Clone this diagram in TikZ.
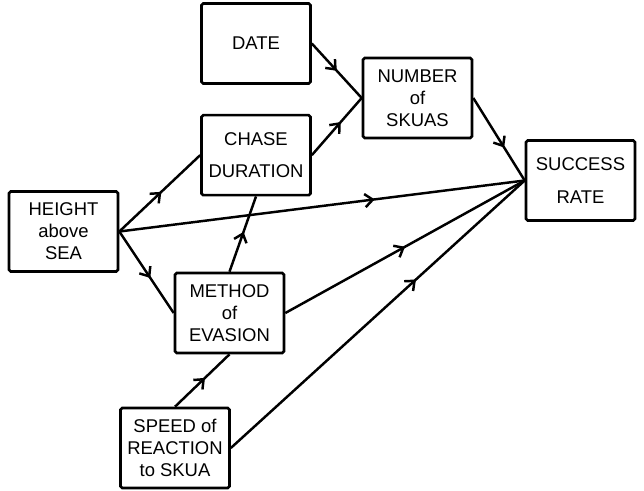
\documentclass[tikz,border=0pt]{standalone}
\usepackage{fontspec}
\setmainfont{Liberation Sans}
\usetikzlibrary{arrows.meta,positioning,decorations.markings}

\begin{document}
\begin{tikzpicture}[
    every node/.style={align=center},
    factor/.style={rectangle, rounded corners=1pt, minimum width=2.18cm, minimum height=1.6cm, text centered, draw=black, line width=1.5pt, font=\fontsize{10.5}{12.5}\selectfont},
    flow/.style={line width=1.4pt, decoration={markings, mark=at position #1 with {\arrow{Straight Barb[length=4.5pt, width=7.5pt, line width=1.4pt]}}}, postaction={decorate}},
    flow/.default=0.55
]
\useasboundingbox (0,0) rectangle (12.88,-9.8);

% Main components
\node[factor] (date) at (5.12,-0.87) {DATE};
\node[factor, below=0.58cm of date] (chase) {CHASE\\[6pt]DURATION};
\node[factor] (number) at (8.35,-1.96) {NUMBER\\of\\SKUAS};
\node[factor] (success) at (11.61,-3.61) {SUCCESS\\[6pt]RATE};
\node[factor] (height) at (1.27,-4.63) {HEIGHT\\above\\SEA};
\node[factor] (method) at (4.59,-6.26) {METHOD\\of\\EVASION};
\node[factor] (speed) at (3.50,-8.96) {SPEED of\\REACTION\\to SKUA};

% Connections
\draw[flow=0.5] (date.east) -- (number.west);
\draw[flow=0.58] (chase.east) -- (number.west);
\draw[flow=0.6] (number.east) -- (success.west);
\draw[flow=0.52] (height.east) -- (chase.west);
\draw[flow=0.57] (height.east) -- (method.west);
\draw[flow=0.63] (height.east) -- (success.west);
\draw[flow=0.53] (method.north) -- (chase.south);
\draw[flow=0.5] (method.east) -- (success.west);
\draw[flow=0.55] (speed.north) -- (method.south);
\draw[flow=0.63] (speed.east) -- (success.west);

\end{tikzpicture}
\end{document}
